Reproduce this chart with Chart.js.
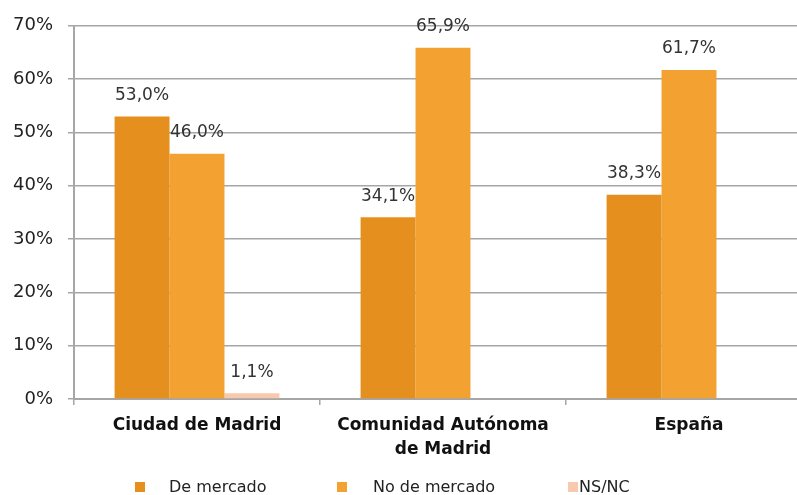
<!DOCTYPE html>
<html>
<head>
<meta charset="utf-8">
<script src="https://cdn.jsdelivr.net/npm/chart.js@4/dist/chart.umd.min.js"></script>
<style>
  html, body { margin: 0; padding: 0; background: #fff; overflow: hidden; }
  #wrap { position: relative; width: 797px; height: 495px; overflow: hidden; }
  #chart { display: block; }
  .leg-box { position: absolute; width: 10px; height: 10px; }
  .leg-txt { position: absolute; font: 16px 'DejaVu Sans', sans-serif; color: #222; line-height: 20px; white-space: nowrap; }
</style>
</head>
<body>
<div id="wrap">
  <canvas id="chart" width="830" height="495"></canvas>
</div>
<script>
// categories (multi-line labels)
var categories = [['Ciudad de Madrid'], ['Comunidad Autónoma', 'de Madrid'], ['España']];

// series values (%)
var deMercado   = [53.0, 34.1, 38.3];
var noDeMercado = [46.0, 65.9, 61.7];
var nsnc        = [1.1, null, null];

var seriesNames = ['De mercado', 'No de mercado', 'NS/NC'];
var colors = ['#e5901e', '#f3a232', '#f8c9ac'];

// y ticks
var yTicks = [0, 10, 20, 30, 40, 50, 60, 70];

var gridColor = '#a6a6a6';
var textColor = '#222';

Chart.defaults.font.family = "'DejaVu Sans', sans-serif";
Chart.defaults.color = textColor;

function fmt(v) {
    return v.toFixed(1).replace('.', ',') + '%';
}

// draws value labels above each bar
var valueLabels = {
    id: 'valueLabels',
    afterDatasetsDraw: function(chart) {
        var ctx = chart.ctx;
        ctx.save();
        ctx.font = "17px 'DejaVu Sans', sans-serif";
        ctx.fillStyle = '#333';
        ctx.textAlign = 'center';
        ctx.textBaseline = 'middle';
        chart.data.datasets.forEach(function(ds, i) {
            var meta = chart.getDatasetMeta(i);
            meta.data.forEach(function(bar, j) {
                var v = ds.data[j];
                if (v === null || v === undefined) return;
                ctx.fillText(fmt(v), bar.x, bar.y - 21);
            });
        });
        ctx.restore();
    }
};

var chart = new Chart(document.getElementById('chart'), {
    type: 'bar',
    data: {
        labels: categories,
        datasets: [
            { label: seriesNames[0], data: deMercado, backgroundColor: colors[0] },
            { label: seriesNames[1], data: noDeMercado, backgroundColor: colors[1] },
            { label: seriesNames[2], data: nsnc, backgroundColor: colors[2] }
        ]
    },
    options: {
        responsive: false,
        animation: false,
        categoryPercentage: 0.67,
        barPercentage: 1.0,
        layout: { padding: { top: 24, right: 18, left: 0, bottom: 0 } },
        plugins: {
            legend: { display: false },
            tooltip: { enabled: false }
        },
        scales: {
            x: {
                grid: {
                    offset: true,
                    drawOnChartArea: false,
                    drawTicks: true,
                    tickLength: 6,
                    color: gridColor,
                    lineWidth: 1.5
                },
                border: { color: gridColor, width: 2 },
                ticks: {
                    padding: 9,
                    color: '#111',
                    maxRotation: 0,
                    autoSkip: false,
                    font: { size: 17, weight: 'bold', lineHeight: 1.41 }
                },
                afterFit: function(scale) { scale.height = 96; }
            },
            y: {
                min: 0,
                max: 70,
                afterBuildTicks: function(scale) {
                    scale.ticks = yTicks.map(function(v) { return { value: v }; });
                },
                grid: {
                    color: gridColor,
                    lineWidth: 1.5,
                    tickLength: 6
                },
                border: { color: gridColor, width: 2 },
                ticks: {
                    padding: 15,
                    color: textColor,
                    font: { size: 18 },
                    callback: function(v) { return v + '%'; }
                },
                afterFit: function(scale) { scale.width = 74; }
            }
        }
    },
    plugins: [valueLabels]
});

// legend, laid out like the original
var legendPos = [[135, 169], [337, 373], [568, 579]];
var wrap = document.getElementById('wrap');
chart.data.datasets.forEach(function(ds, i) {
    var box = document.createElement('div');
    box.className = 'leg-box';
    box.style.left = legendPos[i][0] + 'px';
    box.style.top = '482px';
    box.style.background = ds.backgroundColor;
    wrap.appendChild(box);
    var txt = document.createElement('div');
    txt.className = 'leg-txt';
    txt.style.left = legendPos[i][1] + 'px';
    txt.style.top = '477px';
    txt.textContent = ds.label;
    wrap.appendChild(txt);
});
</script>
</body>
</html>
